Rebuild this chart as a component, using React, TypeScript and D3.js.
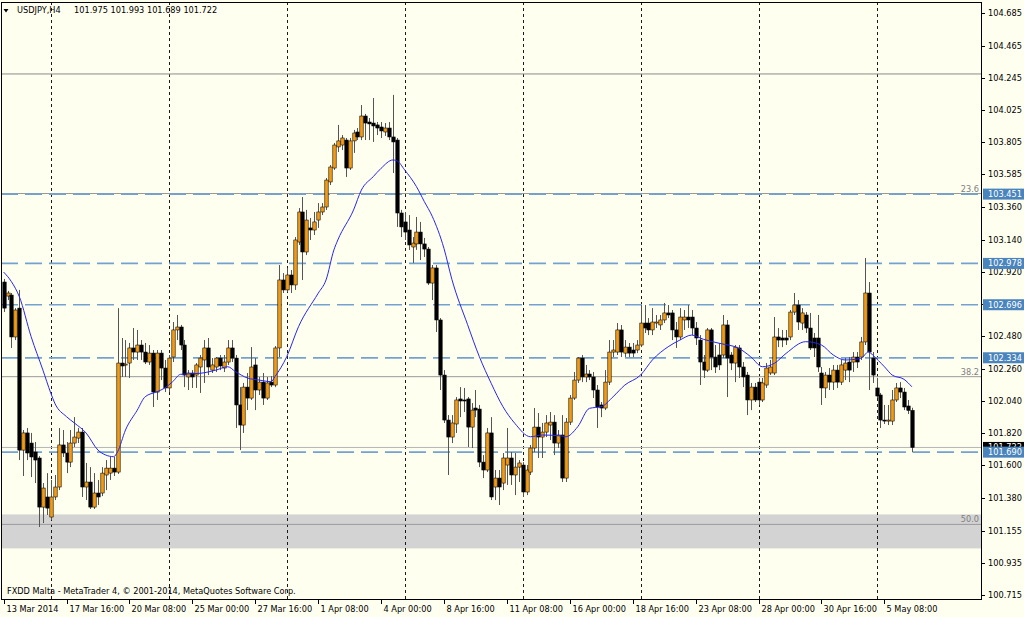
import React from "react";
import * as d3 from "d3";

const W = 1024;
const H = 617;

const symbolLabel = "USDJPY,H4";
const credit = "FXDD Malta - MetaTrader 4, © 2001-2014, MetaQuotes Software Corp.";

const openP = [
102.851,102.755,102.762,102.476,102.673,101.704,101.821,101.752,101.691,101.650,
101.315,101.384,101.247,101.384,101.452,101.739,101.684,101.622,101.752,101.786,
101.827,101.452,101.486,101.315,101.411,101.411,101.534,101.547,101.581,101.554,
102.298,102.285,102.298,102.401,102.373,102.421,102.373,102.305,102.366,102.100,
102.366,102.264,102.128,102.339,102.524,102.544,102.421,102.203,102.230,102.216,
102.271,102.319,102.401,102.250,102.271,102.332,102.264,102.305,102.401,102.332,
102.012,101.875,102.134,102.059,102.285,102.114,102.168,102.059,102.168,102.148,
102.401,102.865,102.797,102.899,102.831,103.124,103.329,103.056,103.220,103.206,
103.274,103.329,103.363,103.534,103.629,103.773,103.786,103.820,103.629,103.814,
103.875,103.841,103.984,103.943,103.936,103.923,103.909,103.875,103.902,103.841,
103.820,103.322,103.261,103.206,103.090,103.111,103.192,103.111,103.076,102.844,
102.947,102.592,102.216,101.909,101.793,101.882,102.053,102.046,102.053,101.861,
101.991,101.984,101.622,101.568,101.821,101.452,101.513,101.479,101.602,101.650,
101.534,101.588,101.602,101.418,101.554,101.718,101.861,101.793,101.827,101.875,
101.895,101.752,101.807,101.513,101.895,102.059,102.182,102.332,102.203,102.223,
102.203,102.114,102.012,101.991,102.168,102.373,102.373,102.524,102.366,102.407,
102.387,102.387,102.421,102.571,102.571,102.524,102.571,102.558,102.592,102.640,
102.640,102.524,102.476,102.592,102.612,102.612,102.537,102.455,102.305,102.250,
102.524,102.339,102.353,102.353,102.558,102.353,102.298,102.401,102.271,102.216,
102.046,102.134,102.168,102.046,102.148,102.230,102.230,102.476,102.469,102.469,
102.476,102.646,102.694,102.571,102.626,102.537,102.469,102.469,102.230,102.128,
102.216,102.168,102.250,102.168,102.250,102.305,102.305,102.339,102.339,102.442,
102.776,102.332,102.128,102.080,101.909,101.902,101.902,102.046,102.128,102.100,
102.005,101.975];

const highP = [
102.872,102.790,102.776,102.673,102.797,101.841,101.855,101.821,101.759,101.663,
101.479,101.547,101.500,101.534,101.855,101.841,101.759,101.841,101.929,101.855,
101.855,101.616,101.588,101.547,101.500,101.588,101.636,101.657,101.657,102.673,
102.469,102.455,102.435,102.537,102.524,102.455,102.435,102.421,102.387,102.387,
102.387,102.319,102.353,102.578,102.626,102.558,102.455,102.250,102.250,102.298,
102.353,102.455,102.469,102.332,102.339,102.353,102.353,102.455,102.455,102.353,
102.134,102.162,102.230,102.407,102.332,102.203,102.230,102.203,102.209,102.414,
102.967,102.912,102.947,102.933,103.158,103.356,103.431,103.343,103.288,103.329,
103.390,103.390,103.561,103.650,103.800,103.923,103.854,103.834,103.834,103.889,
103.902,104.059,103.998,103.970,104.107,103.943,103.943,103.936,103.943,104.128,
103.834,103.343,103.329,103.308,103.158,103.295,103.261,103.152,103.090,102.967,
102.967,102.605,102.250,101.943,101.943,102.066,102.134,102.128,102.066,102.025,
102.114,102.012,101.670,101.855,101.929,101.568,101.568,101.684,101.855,101.691,
101.684,101.636,101.622,101.602,101.739,101.991,101.957,101.889,101.943,101.964,
101.943,101.841,101.943,101.923,102.080,102.237,102.339,102.353,102.285,102.250,
102.237,102.148,102.032,102.250,102.455,102.455,102.571,102.558,102.455,102.435,
102.435,102.455,102.694,102.694,102.605,102.673,102.626,102.626,102.708,102.694,
102.660,102.578,102.673,102.660,102.694,102.660,102.578,102.489,102.353,102.537,
102.537,102.421,102.435,102.626,102.592,102.373,102.421,102.421,102.305,102.237,
102.162,102.162,102.196,102.196,102.298,102.319,102.612,102.537,102.524,102.524,
102.660,102.776,102.728,102.673,102.646,102.640,102.503,102.626,102.271,102.237,
102.264,102.285,102.285,102.319,102.332,102.339,102.373,102.373,102.476,103.015,
102.851,102.373,102.196,102.094,102.012,102.012,102.114,102.162,102.168,102.128,
102.046,101.993];

const lowP = [
102.646,102.728,102.401,102.455,101.636,101.527,101.636,101.520,101.479,101.179,
101.206,101.261,101.227,101.363,101.431,101.657,101.547,101.588,101.725,101.752,
101.384,101.363,101.302,101.302,101.329,101.390,101.431,101.500,101.527,101.541,
102.203,102.203,102.196,102.319,102.319,102.319,102.291,102.285,101.998,102.046,
102.182,102.100,102.100,102.305,102.455,102.387,102.134,102.114,102.128,102.128,
102.094,102.162,102.216,102.230,102.237,102.250,102.237,102.285,102.305,101.855,
101.704,101.821,101.977,102.046,101.977,102.080,102.012,102.046,102.134,102.134,
102.339,102.776,102.783,102.776,102.797,103.104,102.865,103.035,103.138,103.172,
103.220,103.308,103.343,103.513,103.616,103.738,103.752,103.568,103.616,103.732,
103.820,103.820,103.820,103.820,103.807,103.854,103.834,103.848,103.820,103.595,
103.227,103.158,103.138,103.070,102.981,103.070,103.001,103.022,102.831,102.728,
102.510,102.114,101.889,101.534,101.752,101.821,101.929,101.964,101.725,101.718,
101.929,101.588,101.513,101.554,101.363,101.363,101.329,101.431,101.466,101.466,
101.397,101.486,101.384,101.397,101.534,101.691,101.650,101.650,101.793,101.773,
101.670,101.718,101.486,101.486,101.875,102.046,102.162,102.168,102.168,102.182,
102.059,101.855,101.929,101.977,102.148,102.339,102.353,102.339,102.339,102.339,
102.339,102.366,102.407,102.503,102.489,102.489,102.537,102.524,102.571,102.605,
102.455,102.401,102.455,102.524,102.537,102.489,102.421,102.148,102.196,102.237,
102.250,102.230,102.250,102.332,102.066,102.250,102.168,102.196,102.134,101.943,
101.977,102.032,102.012,102.032,102.128,102.216,102.216,102.407,102.407,102.421,
102.455,102.626,102.524,102.524,102.503,102.387,102.339,102.237,102.012,102.059,
102.114,102.114,102.128,102.148,102.182,102.168,102.237,102.264,102.319,102.421,
102.114,102.162,102.059,101.855,101.882,101.875,101.875,102.032,102.059,101.977,
101.950,101.689];

const closeP = [
102.673,102.776,102.476,102.660,101.704,101.821,101.684,101.657,101.636,101.315,
101.445,101.308,101.384,101.452,101.739,101.684,101.622,101.752,101.793,101.827,
101.452,101.486,101.315,101.411,101.384,101.547,101.581,101.581,101.554,102.298,
102.278,102.291,102.401,102.373,102.421,102.373,102.305,102.366,102.100,102.366,
102.264,102.128,102.332,102.524,102.544,102.421,102.216,102.230,102.203,102.285,
102.332,102.401,102.271,102.285,102.332,102.278,102.305,102.401,102.332,102.012,
101.875,102.134,102.059,102.271,102.114,102.168,102.059,102.162,102.148,102.401,
102.865,102.797,102.899,102.831,103.138,103.329,103.056,103.274,103.206,103.261,
103.329,103.363,103.547,103.636,103.786,103.814,103.834,103.629,103.814,103.868,
103.841,103.984,103.936,103.930,103.916,103.902,103.882,103.902,103.841,103.807,
103.322,103.227,103.192,103.104,103.117,103.192,103.111,103.076,102.844,102.947,
102.592,102.216,101.909,101.793,101.889,102.046,102.039,102.039,101.861,101.977,
101.977,101.622,101.568,101.821,101.384,101.513,101.452,101.650,101.650,101.534,
101.588,101.616,101.418,101.568,101.718,101.861,101.793,101.827,101.889,101.895,
101.752,101.807,101.513,101.895,102.059,102.182,102.332,102.203,102.223,102.203,
102.114,101.998,101.991,102.168,102.373,102.387,102.524,102.373,102.407,102.366,
102.366,102.421,102.571,102.537,102.524,102.578,102.578,102.592,102.640,102.626,
102.524,102.476,102.612,102.612,102.592,102.537,102.469,102.305,102.250,102.524,
102.339,102.271,102.285,102.558,102.332,102.298,102.407,102.271,102.203,102.046,
102.134,102.046,102.046,102.162,102.264,102.271,102.476,102.455,102.455,102.455,
102.646,102.694,102.578,102.640,102.537,102.401,102.401,102.271,102.128,102.216,
102.168,102.250,102.168,102.285,102.298,102.250,102.339,102.305,102.442,102.776,
102.373,102.216,102.073,101.909,101.902,101.909,102.046,102.128,102.100,101.998,
101.975,101.722];

// moving average: bar index and value
const maBars = [0,2,4,7,10,12,13,16,18,21,24,26,28,29,31,34,36,39,41,43,45,50,54,57,59,62,65,68,69,72,75,80,82,84,85,89,91,94,96,99,100,102,105,107,109,112,114,118,121,124,127,130,134,137,142,143,146,149,152,155,158,162,165,169,172,175,178,182,187,190,193,196,199,204,208,211,214,218,220,221,224,226,229,231];
const maValues = [102.919,102.853,102.751,102.478,102.250,102.093,102.025,101.932,101.889,101.820,101.704,101.670,101.659,101.693,101.841,101.977,102.068,102.102,102.128,102.171,102.221,102.228,102.250,102.273,102.239,102.196,102.182,102.171,102.205,102.341,102.546,102.774,102.865,103.070,103.138,103.343,103.479,103.570,103.627,103.684,103.679,103.616,103.502,103.400,103.300,103.080,102.870,102.560,102.341,102.160,102.000,101.887,101.795,101.807,101.800,101.795,101.863,101.989,102.000,102.068,102.148,102.216,102.319,102.409,102.455,102.489,102.460,102.433,102.398,102.341,102.273,102.296,102.364,102.444,102.421,102.353,102.319,102.330,102.375,102.353,102.273,102.216,102.187,102.136];

const priceTicks = [104.685,104.465,104.245,104.025,103.805,103.585,103.360,103.140,102.920,102.700,102.480,102.260,102.040,101.820,101.600,101.380,101.155,100.935,100.715];
const timeLabels = ["13 Mar 2014","17 Mar 16:00","20 Mar 08:00","25 Mar 00:00","27 Mar 16:00","1 Apr 08:00","4 Apr 00:00","8 Apr 16:00","11 Apr 08:00","16 Apr 00:00","18 Apr 16:00","23 Apr 08:00","28 Apr 00:00","30 Apr 16:00","5 May 08:00"];
const barsPerTimeLabel = 16;
const weekStartBars = [12,42,72,102,132,162,192,222];

const levelPrices = [103.451,102.978,102.696,102.334,101.690];
const fibLabels = ["23.6","38.2","50.0"];
const fibPrices = [103.455,102.205,101.197];
const topLinePrice = 104.271;
const zoneTop = 101.265;
const zoneBottom = 101.033;

const PL = 1, PT = 2, PR = 981, PB = 599;
const FONT = "'DejaVu Sans', Verdana, sans-serif";

export default function App() {
  const n = openP.length;
  const x = d3.scaleLinear().domain([0, n - 1]).range([3.6, 911.9]);
  const y = d3.scaleLinear().domain([100.715, 104.685]).range([595, 13.3]);

  const maLine = d3.line<number>()
    .x((_, i) => x(maBars[i]))
    .y((v) => y(v))
    .curve(d3.curveMonotoneX);

  const lastO = openP[n - 1], lastH = highP[n - 1], lastL = lowP[n - 1], lastC = closeP[n - 1];
  const bull = "#F29A12";

  return (
    <div style={{ position: "absolute", left: 0, top: 0, width: W, height: H }}>
      <svg width={W} height={H} style={{ display: "block" }} fontFamily={FONT}>
        <defs>
          <clipPath id="plotClip">
            <rect x={PL} y={PT} width={PR - PL} height={PB - PT} />
          </clipPath>
        </defs>
        <rect x={0} y={0} width={W} height={H} fill="#FFFFF0" />
        <g clipPath="url(#plotClip)">
          <rect x={PL} y={y(zoneTop)} width={PR - PL} height={y(zoneBottom) - y(zoneTop)} fill="#D3D3D3" />
          {weekStartBars.map((b) => (
            <line key={"w" + b} x1={Math.round(x(b)) + 0.5} x2={Math.round(x(b)) + 0.5} y1={PT} y2={PB}
              stroke="#1a1a1a" strokeWidth={1} strokeDasharray="3,3" />
          ))}
          <line x1={PL} x2={PR} y1={y(topLinePrice)} y2={y(topLinePrice)} stroke="#8c8c8c" strokeWidth={1} />
          {fibPrices.map((p, i) => (
            <line key={"f" + i} x1={PL} x2={PR} y1={y(p)} y2={y(p)} stroke="#999999" strokeWidth={1} />
          ))}
          <line x1={PL} x2={PR} y1={y(lastC)} y2={y(lastC)} stroke="#b4b4b4" strokeWidth={1} />
          {levelPrices.map((p, i) => (
            <line key={"l" + i} x1={PL} x2={PR} y1={y(p)} y2={y(p)} stroke="#73a2cf" strokeWidth={1.7} strokeDasharray="17,7" />
          ))}
          {openP.map((o, i) => {
            const c = closeP[i];
            const hi = Math.max(highP[i], o, c);
            const lo = Math.min(lowP[i], o, c);
            const cx = Math.round(x(i)) + 0.5;
            return (
              <line key={"k" + i} x1={cx} x2={cx} y1={y(hi)} y2={y(lo)} stroke="#555555" strokeWidth={1} />
            );
          })}
          {openP.map((o, i) => {
            const c = closeP[i];
            const top = y(Math.max(o, c));
            const bot = y(Math.min(o, c));
            const cx = Math.round(x(i)) + 0.5;
            const up = c >= o;
            return (
              <rect key={"b" + i} x={cx - 1.7} y={top} width={3.4} height={Math.max(1, bot - top)}
                fill={up ? bull : "#000000"} stroke="#000000" strokeWidth={0.55} />
            );
          })}
          <path d={maLine(maValues) || ""} fill="none" stroke="#2626f2" strokeWidth={1} />
        </g>

        {fibLabels.map((t, i) => (
          <text key={"ft" + i} x={PR - 2} y={y(fibPrices[i]) - 2} fontSize={8.2} fill="#808080" textAnchor="end">{t}</text>
        ))}

        <path d="M3.5,9 L8.5,9 L6,12.5 Z" fill="#000" />
        <text x={17} y={13} fontSize={8.2} fill="#000">{symbolLabel}</text>
        <text x={74} y={13} fontSize={8.2} fill="#000">
          {[lastO, lastH, lastL, lastC].map((v) => v.toFixed(3)).join(" ")}
        </text>
        <text x={7} y={594} fontSize={8.2} fill="#000">{credit}</text>

        <rect x={PL + 0.5} y={PT + 0.5} width={PR - PL} height={PB - PT} fill="none" stroke="#000" strokeWidth={1} />

        {priceTicks.map((p) => (
          <g key={"pt" + p}>
            <line x1={PR + 1} x2={PR + 4} y1={Math.round(y(p)) + 0.5} y2={Math.round(y(p)) + 0.5} stroke="#000" strokeWidth={1} />
            <text x={988} y={y(p) + 3} fontSize={8.2} fill="#000">{p.toFixed(3)}</text>
          </g>
        ))}

        <rect x={983} y={y(lastC) - 5.5} width={41} height={11} fill="#000" />
        <text x={988} y={y(lastC) + 3} fontSize={8.2} fill="#fff">{lastC.toFixed(3)}</text>
        {levelPrices.map((p, i) => (
          <g key={"lb" + i}>
            <rect x={983} y={y(p) - 5.5} width={41} height={11} fill="#4a84bd" />
            <text x={988} y={y(p) + 3} fontSize={8.2} fill="#fff">{p.toFixed(3)}</text>
          </g>
        ))}

        {timeLabels.map((t, i) => {
          const tx = Math.round(x(i * barsPerTimeLabel)) + 0.5;
          return (
            <g key={"tl" + i}>
              <line x1={tx} x2={tx} y1={PB + 1} y2={PB + 5} stroke="#000" strokeWidth={1} />
              <text x={tx + 2} y={612} fontSize={8.2} fill="#000">{t}</text>
            </g>
          );
        })}
      </svg>
    </div>
  );
}
